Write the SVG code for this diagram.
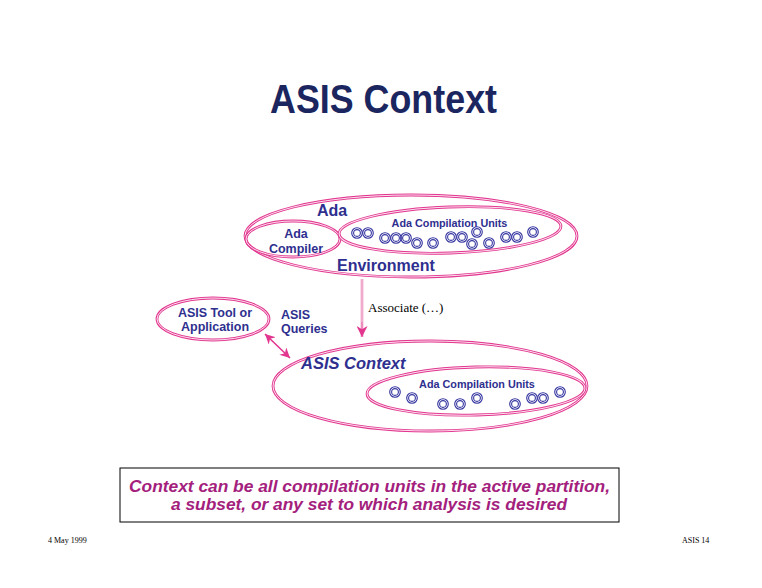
<svg xmlns="http://www.w3.org/2000/svg" width="762" height="588" viewBox="0 0 762 588">
<style>
.ring{fill:none;stroke:#e2368f;stroke-width:2.8}
.ringin{fill:none;stroke:#ffffff;stroke-width:1;opacity:0.85}
.lbl{font-family:"Liberation Sans",Arial,sans-serif;font-weight:bold;fill:#2e2f8f}
.cu{fill:none;stroke:#3434a0;stroke-width:1.1}
.ser{font-family:"Liberation Serif","Times New Roman",serif;fill:#000}
</style>
<defs>
<g id="unit"><circle r="5.3" class="cu"/><circle r="3.4" class="cu" stroke-width="0.9"/></g>
<marker id="ah" viewBox="0 0 10 10" refX="10" refY="5" markerWidth="10" markerHeight="10" markerUnits="userSpaceOnUse" orient="auto-start-reverse"><path d="M0,0 L10,5 L0,10 L3,5 Z" fill="#e2368f"/></marker>
<marker id="ahv" viewBox="0 0 10 10" refX="10" refY="5" markerWidth="19" markerHeight="11" markerUnits="userSpaceOnUse" orient="auto"><path d="M0,0 L10,5 L0,10 L3,5 Z" fill="#e2368f"/></marker>
</defs>
<rect width="762" height="588" fill="#ffffff"/>
<text x="383.5" y="113" text-anchor="middle" font-family="Liberation Sans,Arial,sans-serif" font-weight="bold" font-size="36" fill="#1b2660" transform="translate(0,-17) scale(1,1.15)" textLength="227" lengthAdjust="spacingAndGlyphs">ASIS Context</text>

<g id="ada-environment">
<ellipse cx="411" cy="236" rx="166" ry="41" class="ring"/>
<ellipse cx="411" cy="236" rx="166" ry="41" class="ringin"/>
<text x="317" y="216" class="lbl" font-size="16">Ada</text>
<text x="337" y="271" class="lbl" font-size="16">Environment</text>
</g>
<g id="ada-compiler">
<ellipse cx="293" cy="239" rx="47" ry="18" class="ring"/>
<ellipse cx="293" cy="239" rx="47" ry="18" class="ringin"/>
<text x="296" y="238" class="lbl" font-size="12.5" text-anchor="middle">Ada</text>
<text x="296" y="253" class="lbl" font-size="12.5" text-anchor="middle">Compiler</text>
</g>
<g id="ada-units">
<ellipse cx="450" cy="230" rx="111" ry="23" transform="rotate(-2 450 230)" class="ring"/>
<ellipse cx="450" cy="230" rx="111" ry="23" transform="rotate(-2 450 230)" class="ringin"/>
<text x="449.5" y="227" class="lbl" font-size="10.8" text-anchor="middle">Ada Compilation Units</text>
<use href="#unit" x="357" y="233"/><use href="#unit" x="368" y="233"/>
<use href="#unit" x="385" y="238"/><use href="#unit" x="396" y="238"/><use href="#unit" x="406" y="238"/>
<use href="#unit" x="417" y="243"/><use href="#unit" x="433" y="243"/>
<use href="#unit" x="451" y="237"/><use href="#unit" x="462" y="237"/>
<use href="#unit" x="477" y="232"/><use href="#unit" x="472" y="244"/><use href="#unit" x="489" y="243"/>
<use href="#unit" x="506" y="237"/><use href="#unit" x="517" y="237"/><use href="#unit" x="533" y="232"/>
</g>

<g id="asis-tool">
<ellipse cx="213" cy="319" rx="56" ry="21" class="ring"/>
<ellipse cx="213" cy="319" rx="56" ry="21" class="ringin"/>
<text x="215" y="317" class="lbl" font-size="12.5" text-anchor="middle">ASIS Tool or</text>
<text x="215" y="331" class="lbl" font-size="12.5" text-anchor="middle">Application</text>
</g>
<g id="asis-queries">
<text x="281" y="319" class="lbl" font-size="12.5">ASIS</text>
<text x="281" y="333" class="lbl" font-size="12.5">Queries</text>
</g>

<g id="asis-context">
<ellipse cx="430" cy="386" rx="157" ry="45" class="ring"/>
<ellipse cx="430" cy="386" rx="157" ry="45" class="ringin"/>
<text x="301" y="369" class="lbl" font-size="16.5" font-style="italic">ASIS Context</text>
</g>
<g id="context-units">
<ellipse cx="476" cy="391" rx="109" ry="24" transform="rotate(-1.5 476 391)" class="ring"/>
<ellipse cx="476" cy="391" rx="109" ry="24" transform="rotate(-1.5 476 391)" class="ringin"/>
<text x="477" y="388" class="lbl" font-size="10.8" text-anchor="middle">Ada Compilation Units</text>
<use href="#unit" x="395" y="392"/><use href="#unit" x="412" y="398"/>
<use href="#unit" x="443" y="404"/><use href="#unit" x="460" y="404"/><use href="#unit" x="477" y="398"/>
<use href="#unit" x="515" y="404"/><use href="#unit" x="532" y="398"/><use href="#unit" x="543" y="398"/><use href="#unit" x="560" y="392"/>
</g>

<g id="connectors">
<line x1="362" y1="279" x2="362" y2="337" stroke="#ec8cbc" stroke-width="2.6" marker-end="url(#ahv)"/>
<line x1="362" y1="279" x2="362" y2="322" stroke="#ffffff" stroke-width="0.8" opacity="0.7"/>
<line x1="265" y1="334" x2="290" y2="358" stroke="#e2368f" stroke-width="1.6" marker-start="url(#ah)" marker-end="url(#ah)"/>
<text x="368" y="312" class="ser" font-size="13">Associate (…)</text>
</g>

<g id="note">
<rect x="120" y="468" width="499" height="54" fill="#ffffff" stroke="#000" stroke-width="1"/>
<text x="369.5" y="492" font-family="Liberation Sans,Arial,sans-serif" font-weight="bold" font-style="italic" font-size="16.5" fill="#a3207c" text-anchor="middle" textLength="481" lengthAdjust="spacingAndGlyphs">Context can be all compilation units in the active partition,</text>
<text x="369" y="510" font-family="Liberation Sans,Arial,sans-serif" font-weight="bold" font-style="italic" font-size="16.5" fill="#a3207c" text-anchor="middle" textLength="396" lengthAdjust="spacingAndGlyphs">a subset, or any set to which analysis is desired</text>
</g>

<text x="48" y="543" class="ser" font-size="8">4 May 1999</text>
<text x="682" y="543" class="ser" font-size="8">ASIS 14</text>
</svg>
